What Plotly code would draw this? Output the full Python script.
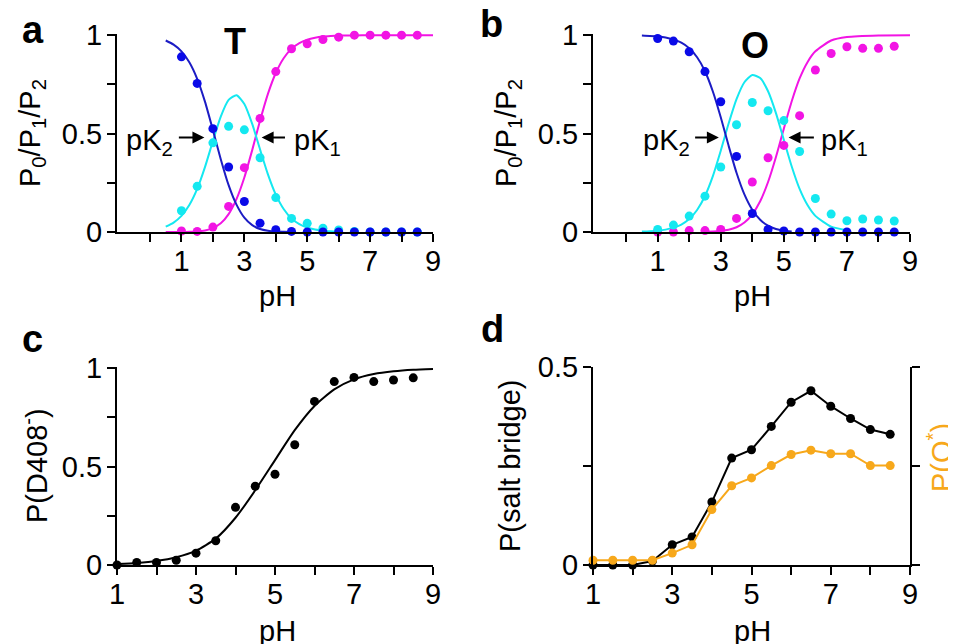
import plotly.graph_objects as go

# ---------------- data ----------------
PH_PTS = [1.0, 1.5, 2.0, 2.5, 3.0, 3.5, 4.0, 4.5, 5.0, 5.5, 6.0, 6.5, 7.0, 7.5, 8.0, 8.5]

# panel a (T state) simulation points
T_P0 = [0.89, 0.755, 0.525, 0.33, 0.155, 0.045, 0.012, 0.003, 0, 0, 0, 0, 0, 0, 0, 0]
T_P1 = [0.108, 0.232, 0.453, 0.537, 0.519, 0.377, 0.175, 0.069, 0.044, 0.019, 0.01, 0.003, 0, 0, 0, 0]
T_P2 = [0.005, 0.003, 0.025, 0.13, 0.327, 0.577, 0.815, 0.931, 0.956, 0.978, 0.99, 1.0, 1.0, 1.0, 1.0, 1.0]

# panel b (O state) simulation points
O_P0 = [0.983, 0.970, 0.916, 0.815, 0.662, 0.384, 0.094, 0.013, 0.005, 0, 0, 0, 0, 0, 0, 0]
O_P1 = [0.013, 0.035, 0.081, 0.182, 0.33, 0.545, 0.658, 0.616, 0.566, 0.409, 0.170, 0.091, 0.057, 0.066, 0.061, 0.056]
O_P2 = [0, 0, 0.007, 0.007, 0.013, 0.069, 0.254, 0.377, 0.44, 0.591, 0.823, 0.907, 0.941, 0.933, 0.933, 0.944]

# fitted curves
FIT_PH = [0.5, 0.75, 1.0, 1.25, 1.5, 1.75, 2.0, 2.25, 2.5, 2.75, 3.0, 3.25, 3.5, 3.75,
          4.0, 4.25, 4.5, 4.75, 5.0, 5.25, 5.5, 5.75, 6.0, 6.5, 7.0, 8.0, 9.0]
T_FIT0 = [0.973, 0.952, 0.918, 0.862, 0.778, 0.661, 0.518, 0.370, 0.238, 0.139, 0.073, 0.035, 0.015, 0.006,
          0.002, 0.001, 0.0003, None, None, None, None, None, None, None, None, None, None]
T_FIT1 = [0.027, 0.048, 0.082, 0.137, 0.219, 0.331, 0.462, 0.586, 0.671, 0.695, 0.650, 0.549, 0.419, 0.293,
          0.190, 0.117, 0.069, 0.040, 0.023, 0.013, 0.007, 0.004, 0.002, None, None, None, None]
T_FIT2 = [0.0, 0.0001, 0.0003, 0.001, 0.003, 0.008, 0.020, 0.044, 0.091, 0.167, 0.277, 0.416, 0.566, 0.702,
          0.808, 0.883, 0.931, 0.960, 0.977, 0.987, 0.993, 0.996, 0.998, 0.999, 1.0, 1.0, 1.0]

O_FIT0 = [0.998, 0.996, 0.993, 0.988, 0.978, 0.962, 0.934, 0.888, 0.817, 0.714, 0.583, 0.438, 0.301, 0.191,
          0.113, 0.062, 0.032, 0.015, 0.007, 0.003, None, None, None, None, None, None, None]
O_FIT1 = [0.002, 0.004, 0.007, 0.012, 0.022, 0.038, 0.066, 0.112, 0.183, 0.284, 0.413, 0.551, 0.675, 0.761,
          0.798, 0.782, 0.715, 0.604, 0.468, 0.333, 0.219, 0.137, 0.082, 0.027, 0.009, None, None]
O_FIT2 = [None, None, None, None, None, None, None, None, 0.001, 0.002, 0.005, 0.011, 0.024, 0.048,
          0.090, 0.156, 0.254, 0.381, 0.525, 0.664, 0.780, 0.863, 0.918, 0.973, 0.991, 0.999, 1.0]

# panel c
D408_PTS = [0.0, 0.013, 0.013, 0.024, 0.06, 0.123, 0.293, 0.40, 0.461, 0.611, 0.831, 0.932, 0.953, 0.932, 0.94, 0.951]
C_FIT_PH = [1.0, 1.5, 2.0, 2.5, 3.0, 3.5, 4.0, 4.5, 5.0, 5.5, 6.0, 6.5, 7.0, 7.5, 8.0, 8.5, 9.0]
C_FIT = [0.005, 0.010, 0.020, 0.039, 0.073, 0.134, 0.240, 0.380, 0.533, 0.685, 0.808, 0.892, 0.943, 0.970, 0.984, 0.992, 0.996]

# panel d
SALT_BRIDGE = [0, 0, 0, 0.01, 0.051, 0.071, 0.159, 0.270, 0.291, 0.350, 0.411, 0.440, 0.401, 0.370, 0.342, 0.330]
P_OSTAR = [0.012, 0.012, 0.012, 0.012, 0.030, 0.051, 0.140, 0.200, 0.220, 0.251, 0.279, 0.290, 0.281, 0.281, 0.251, 0.251]

# ticks
XT_AB = [0, 1, 2, 3, 4, 5, 6, 7, 8, 9]
XT_AB_TXT = ["", "1", "", "3", "", "5", "", "7", "", "9"]
XT_CD = [1, 2, 3, 4, 5, 6, 7, 8, 9]
XT_CD_TXT = ["1", "", "3", "", "5", "", "7", "", "9"]
YT_1 = [0, 0.25, 0.5, 0.75, 1]
YT_1_TXT = ["0", "", "0.5", "", "1"]
YT_05 = [0, 0.25, 0.5]
YT_05_TXT = ["0", "", "0.5"]

# ---------------- style ----------------
OFF = 8                      # page body margin of the browser
W, H = 956 - OFF, 644 - OFF  # figure size so it fills the window exactly
FONT = "Liberation Sans"
BLUE_L, BLUE_M = "#1c1cc4", "#0a0ae8"
CYAN = "#14e8f0"
MAG = "#f214e4"
ORANGE = "#f7a81b"
FS = 29


def px(x):
    return (x - OFF) / W


def py(y):
    return 1 - (y - OFF) / H


fig = go.Figure()


def curve(x, y, color, xa, ya):
    fig.add_trace(go.Scatter(x=x, y=y, mode="lines", line=dict(color=color, width=2, shape="spline", smoothing=0.6),
                             xaxis=xa, yaxis=ya, showlegend=False, hoverinfo="skip"))


def dots(x, y, color, xa, ya):
    fig.add_trace(go.Scatter(x=x, y=y, mode="markers", marker=dict(color=color, size=9),
                             cliponaxis=False, xaxis=xa, yaxis=ya, showlegend=False))


# panel a
curve(FIT_PH, T_FIT2, MAG, "x", "y")
curve(FIT_PH, T_FIT1, CYAN, "x", "y")
curve(FIT_PH, T_FIT0, BLUE_L, "x", "y")
dots(PH_PTS, T_P2, MAG, "x", "y")
dots(PH_PTS, T_P1, CYAN, "x", "y")
dots(PH_PTS, T_P0, BLUE_M, "x", "y")

# panel b
curve(FIT_PH, O_FIT2, MAG, "x2", "y2")
curve(FIT_PH, O_FIT1, CYAN, "x2", "y2")
curve(FIT_PH, O_FIT0, BLUE_L, "x2", "y2")
dots(PH_PTS, O_P2, MAG, "x2", "y2")
dots(PH_PTS, O_P1, CYAN, "x2", "y2")
dots(PH_PTS, O_P0, BLUE_M, "x2", "y2")

# panel c
curve(C_FIT_PH, C_FIT, "black", "x3", "y3")
dots(PH_PTS, D408_PTS, "black", "x3", "y3")

# panel d
fig.add_trace(go.Scatter(x=PH_PTS, y=SALT_BRIDGE, mode="lines+markers", line=dict(color="black", width=2),
                         marker=dict(color="black", size=9), cliponaxis=False,
                         xaxis="x4", yaxis="y4", showlegend=False))
fig.add_trace(go.Scatter(x=PH_PTS, y=P_OSTAR, mode="lines+markers", line=dict(color=ORANGE, width=2),
                         marker=dict(color=ORANGE, size=9), cliponaxis=False,
                         xaxis="x4", yaxis="y5", showlegend=False))

ax_common = dict(showline=True, linecolor="black", linewidth=2, ticks="outside", ticklen=8, tickwidth=2,
                 tickcolor="black", showgrid=False, zeroline=False, automargin=False,
                 tickfont=dict(family=FONT, size=FS, color="black"), fixedrange=True)
xs = dict(ticklabelstandoff=-6)
ys = dict(ticklabelstandoff=-1)

dom_x_left = [px(117), px(433)]
dom_x_right = [px(593), px(910)]
dom_y_top = [py(232), py(34)]
dom_y_bot = [py(565), py(367)]

fig.update_layout(
    template="none",
    width=W, height=H, margin=dict(l=0, r=0, t=0, b=0, pad=0, autoexpand=False),
    paper_bgcolor="white", plot_bgcolor="white",
    font=dict(family=FONT, size=FS, color="black"),
    xaxis=dict(ax_common, **xs, domain=dom_x_left, range=[-1.05, 9], tickvals=XT_AB, ticktext=XT_AB_TXT,
               anchor="y"),
    yaxis=dict(ax_common, **ys, domain=dom_y_top, range=[0, 1.006], tickvals=YT_1, ticktext=YT_1_TXT,
               anchor="x"),
    xaxis2=dict(ax_common, **xs, domain=dom_x_right, range=[-1.05, 9], tickvals=XT_AB, ticktext=XT_AB_TXT,
                anchor="y2"),
    yaxis2=dict(ax_common, **ys, domain=dom_y_top, range=[0, 1.006], tickvals=YT_1, ticktext=YT_1_TXT,
                anchor="x2"),
    xaxis3=dict(ax_common, **xs, domain=dom_x_left, range=[1, 9], tickvals=XT_CD, ticktext=XT_CD_TXT,
                anchor="y3"),
    yaxis3=dict(ax_common, **ys, domain=dom_y_bot, range=[0, 1.006], tickvals=YT_1, ticktext=YT_1_TXT,
                anchor="x3"),
    xaxis4=dict(ax_common, **xs, domain=dom_x_right, range=[1, 9], tickvals=XT_CD, ticktext=XT_CD_TXT,
                anchor="y4"),
    yaxis4=dict(ax_common, **ys, domain=dom_y_bot, range=[0, 0.5], tickvals=YT_05, ticktext=YT_05_TXT,
                anchor="x4"),
    yaxis5=dict(ax_common, domain=dom_y_bot, range=[0, 0.5], tickvals=YT_05, showticklabels=False,
                anchor="x4", overlaying="y4", side="right"),
)

ann = []


def txt(x, y, s, size=FS, bold=False, color="black", angle=0, xanchor="center", yanchor="middle"):
    if bold:
        s = "<b>" + s + "</b>"
    ann.append(dict(x=px(x), y=py(y), xref="paper", yref="paper", text=s, showarrow=False,
                    font=dict(family=FONT, size=size, color=color), textangle=angle,
                    xanchor=xanchor, yanchor=yanchor))


# panel letters
txt(20, 30, "a", size=38, bold=True, xanchor="left")
txt(478, 24, "b", size=38, bold=True, xanchor="left")
txt(20, 339, "c", size=38, bold=True, xanchor="left")
txt(479, 329, "d", size=38, bold=True, xanchor="left")
# state labels
txt(235, 42, "T", size=36, bold=True)
txt(755, 45, "O", size=36, bold=True)
# x titles
txt(277, 296, "pH")
txt(752, 296, "pH")
txt(277, 631, "pH")
txt(752, 631, "pH")
# y titles
txt(32, 133, "P<sub>0</sub>/P<sub>1</sub>/P<sub>2</sub>", angle=-90)
txt(508, 133, "P<sub>0</sub>/P<sub>1</sub>/P<sub>2</sub>", angle=-90)
txt(35, 466, "P(D408<sup>-</sup>)", angle=-90)
txt(510, 466, "P(salt bridge)", angle=-90)
txt(940, 458, "P(O<sup>*</sup>)", angle=-90, color=ORANGE)


def arrow(xa, ya, tip, tail, yv):
    ann.append(dict(x=tip, y=yv, ax=tail, ay=yv, xref=xa, yref=ya, axref=xa, ayref=ya, text="",
                    showarrow=True, arrowhead=2, arrowsize=1.2, arrowwidth=2, arrowcolor="black",
                    standoff=0, startstandoff=0))


def lab(xa, ya, x, yv, s, xanchor):
    ann.append(dict(x=x, y=yv, xref=xa, yref=ya, text=s, showarrow=False, xanchor=xanchor, yanchor="middle",
                    font=dict(family=FONT, size=FS, color="black"), yshift=-4))


arrow("x", "y", 1.73, 0.87, 0.48)
lab("x", "y", 0.80, 0.48, "pK<sub>2</sub>", "right")
arrow("x", "y", 3.55, 4.34, 0.48)
lab("x", "y", 4.50, 0.48, "pK<sub>1</sub>", "left")
arrow("x2", "y2", 2.94, 2.14, 0.48)
lab("x2", "y2", 2.08, 0.48, "pK<sub>2</sub>", "right")
arrow("x2", "y2", 5.15, 6.0, 0.48)
lab("x2", "y2", 6.10, 0.48, "pK<sub>1</sub>", "left")

fig.update_layout(annotations=ann)

fig.write_html("out.html")
